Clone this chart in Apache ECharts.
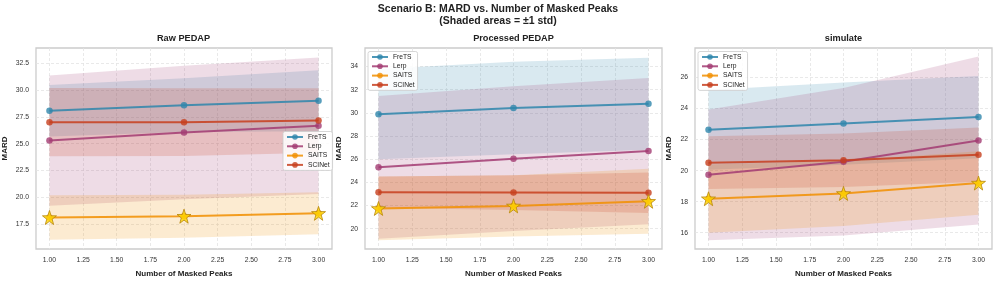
<!DOCTYPE html>
<html><head><meta charset="utf-8">
<script src="https://cdn.jsdelivr.net/npm/echarts@6/dist/echarts.min.js"></script>
<style>html,body{margin:0;padding:0;background:#fff}#c{width:996px;height:283px}</style>
</head><body><div id="c"></div>
<script>
const methods = ['FreTS', 'Lerp', 'SAITS', 'SCINet'];
const xValues = [1, 2, 3];
const xTicks = [1, 1.25, 1.5, 1.75, 2, 2.25, 2.5, 2.75, 3];
const panelTitles = ['Raw PEDAP', 'Processed PEDAP', 'simulate'];

// Raw PEDAP
const rawFreTS = [28.06, 28.58, 29.00], rawFreTSStd = [2.40, 2.50, 2.84];
const rawLerp = [25.29, 26.04, 26.67], rawLerpStd = [6.06, 6.22, 6.35];
const rawSAITS = [18.13, 18.25, 18.52], rawSAITSStd = [2.06, 2.00, 1.95];
const rawSCINet = [27.00, 27.00, 27.16], rawSCINetStd = [3.18, 3.15, 3.00];
const rawYTicks = [17.5, 20, 22.5, 25, 27.5, 30, 32.5];

// Processed PEDAP
const procFreTS = [29.89, 30.42, 30.79], procFreTSStd = [3.90, 4.00, 3.97];
const procLerp = [25.30, 26.05, 26.70], procLerpStd = [6.16, 6.25, 6.32];
const procSAITS = [21.75, 21.97, 22.37], procSAITSStd = [2.75, 2.65, 2.80];
const procSCINet = [23.15, 23.12, 23.10], procSCINetStd = [1.35, 1.50, 1.75];
const procYTicks = [20, 22, 24, 26, 28, 30, 32, 34];

// simulate
const simFreTS = [22.63, 23.03, 23.45], simFreTSStd = [2.57, 2.65, 2.65];
const simLerp = [19.73, 20.57, 21.94], simLerpStd = [4.21, 4.75, 5.41];
const simSAITS = [18.19, 18.53, 19.20], simSAITSStd = [2.20, 2.10, 2.04];
const simSCINet = [20.51, 20.67, 21.03], simSCINetStd = [1.70, 1.72, 1.75];
const simYTicks = [16, 18, 20, 22, 24, 26];

const colors = {FreTS: '#2E86AB', Lerp: '#A23B72', SAITS: '#F18F01', SCINet: '#C73E1D'};
const FONT = '"Liberation Sans", Arial, sans-serif';

const panels = [
  {title: panelTitles[0], means: [rawFreTS, rawLerp, rawSAITS, rawSCINet], stds: [rawFreTSStd, rawLerpStd, rawSAITSStd, rawSCINetStd], yTicks: rawYTicks, ymin: 15.2, ymax: 33.9, dec: 1, left: 35, nameGap: 27, legend: {left: 283, top: 131.5}},
  {title: panelTitles[1], means: [procFreTS, procLerp, procSAITS, procSCINet], stds: [procFreTSStd, procLerpStd, procSAITSStd, procSCINetStd], yTicks: procYTicks, ymin: 18.25, ymax: 35.6, dec: 0, left: 365, nameGap: 22, legend: {left: 368, top: 51.5}},
  {title: panelTitles[2], means: [simFreTS, simLerp, simSAITS, simSCINet], stds: [simFreTSStd, simLerpStd, simSAITSStd, simSCINetStd], yTicks: simYTicks, ymin: 14.95, ymax: 27.9, dec: 0, left: 695, nameGap: 22, legend: {left: 698, top: 51.5}}
];
const W = 297;

const option = {
  backgroundColor: '#fff',
  animation: false,
  textStyle: {fontFamily: FONT},
  title: [
    {text: 'Scenario B: MARD vs. Number of Masked Peaks', left: 498, textAlign: 'center', top: 3.5, padding: 0,
     textStyle: {fontSize: 10.5, fontWeight: 'bold', color: '#222', fontFamily: FONT, lineHeight: 12}},
    {text: '(Shaded areas = \u00b11 std)', left: 498, textAlign: 'center', top: 15, padding: 0,
     textStyle: {fontSize: 10.5, fontWeight: 'bold', color: '#222', fontFamily: FONT, lineHeight: 12}}
  ],
  grid: [], xAxis: [], yAxis: [], series: [], legend: []
};

panels.forEach((p, gi) => {
  option.title.push({text: p.title, left: p.left + W / 2, textAlign: 'center', top: 33, padding: 0,
    textStyle: {fontSize: 9.2, fontWeight: 'bold', color: '#222', fontFamily: FONT, lineHeight: 11}});
  option.grid.push({left: p.left, width: W, top: 48, bottom: 30, show: true, borderColor: '#cccccc', borderWidth: 1.3, backgroundColor: '#fff', containLabel: false});
  option.xAxis.push({type: 'value', gridIndex: gi, min: 0.9, max: 3.1,
    name: 'Number of Masked Peaks', nameLocation: 'middle', nameGap: 21,
    nameTextStyle: {fontSize: 8, fontWeight: 'bold', color: '#222', fontFamily: FONT},
    axisLine: {show: false}, axisTick: {show: false, customValues: xTicks},
    axisLabel: {customValues: xTicks, fontSize: 6.8, color: '#333', margin: 8, formatter: v => v.toFixed(2), fontFamily: FONT},
    splitLine: {show: true, lineStyle: {color: '#e3e3e3', type: [3, 2], width: 0.8}}});
  option.yAxis.push({type: 'value', gridIndex: gi, min: p.ymin, max: p.ymax,
    name: 'MARD', nameLocation: 'middle', nameGap: p.nameGap, nameRotate: 90,
    nameTextStyle: {fontSize: 8, fontWeight: 'bold', color: '#222', fontFamily: FONT},
    axisLine: {show: false}, axisTick: {show: false, customValues: p.yTicks},
    axisLabel: {customValues: p.yTicks, fontSize: 6.8, color: '#333', margin: 7, formatter: v => v.toFixed(p.dec), fontFamily: FONT},
    splitLine: {show: true, lineStyle: {color: '#e3e3e3', type: [3, 2], width: 0.8}}});

  methods.forEach((m, mi) => {
    const mean = p.means[mi], std = p.stds[mi];
    const rows = xValues.map((x, i) => [x, mean[i] - std[i], mean[i] + std[i]]);
    option.series.push({
      type: 'custom', name: m + ' band', xAxisIndex: gi, yAxisIndex: gi, silent: true, clip: true,
      data: rows, encode: {x: 0, y: [1, 2]},
      renderItem: (params, api) => {
        if (params.dataIndex !== 0) return null;
        const top = rows.map(r => api.coord([r[0], r[2]]));
        const bot = rows.map(r => api.coord([r[0], r[1]])).reverse();
        return {type: 'polygon', shape: {points: top.concat(bot)}, style: {fill: colors[m], opacity: 0.18}};
      }
    });
    option.series.push({
      type: 'line', name: m, xAxisIndex: gi, yAxisIndex: gi,
      data: xValues.map((x, i) => [x, mean[i]]),
      symbol: 'circle', symbolSize: 6.5, showSymbol: true,
      lineStyle: {color: colors[m], width: 2, opacity: 0.85},
      itemStyle: {color: colors[m], opacity: 0.8, borderWidth: 0},
      z: 3
    });
  });
  option.series.push({
    type: 'scatter', name: 'best', xAxisIndex: gi, yAxisIndex: gi,
    data: xValues.map((x, i) => [x, p.means[2][i]]),
    symbol: 'path://M50,0 L61.8,35.6 L99.5,36.2 L69.1,58.8 L79.4,95.1 L50,73.6 L20.6,95.1 L30.9,58.8 L0.5,36.2 L38.2,35.6 Z',
    symbolSize: 14,
    itemStyle: {color: '#FFD700', borderColor: '#B8860B', borderWidth: 1},
    z: 5
  });
  option.legend.push({
    data: methods, left: p.legend.left, top: p.legend.top, orient: 'vertical',
    itemWidth: 16, itemHeight: 7, itemGap: 2.3, padding: [2, 3, 2, 3],
    borderColor: '#cccccc', borderWidth: 0.8, borderRadius: 2, backgroundColor: 'rgba(255,255,255,0.85)',
    textStyle: {fontSize: 6.7, color: '#222', fontFamily: FONT}, selectedMode: false
  });
});

const chart = echarts.init(document.getElementById('c'), null, {renderer: 'canvas'});
chart.setOption(option);
</script></body></html>
